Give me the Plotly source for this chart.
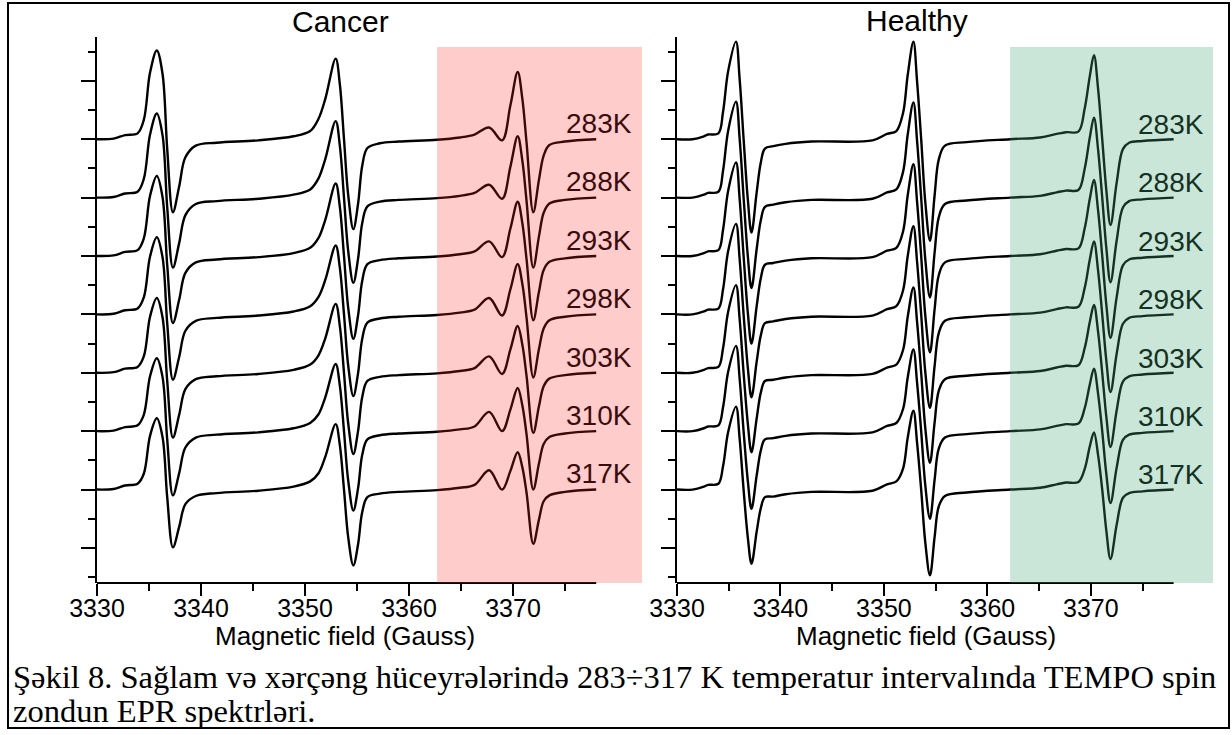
import plotly.graph_objects as go

W, H = 1232, 735

# ---------------------------------------------------------------- data
temperatures = ["283K", "288K", "293K", "298K", "303K", "310K", "317K"]
stack_level = [7, 6, 5, 4, 3, 2, 1]          # baseline of each stacked spectrum

x_ticks = [3330, 3340, 3350, 3360, 3370]
x_minor = [3335, 3345, 3355, 3365, 3375]

# Cancer cells: field positions (G) of the sampled spectrum points
cancer_field = [
    3330.0, 3331.6, 3332.7, 3333.9, 3334.5, 3335.1, 3335.75, 3336.3, 3336.75, 3337.3,
    3337.9, 3338.5, 3339.5, 3341.5, 3345.5,
    3348.9, 3350.5, 3351.3, 3351.95, 3352.95, 3353.35, 3353.75, 3354.15, 3354.65, 3355.1,
    3355.5, 3356.0, 3357.2, 3359.0,
    3362.7, 3364.9, 3366.3, 3367.7, 3368.95, 3369.75, 3370.45, 3370.9, 3371.3, 3371.95,
    3372.5, 3372.95, 3373.5, 3375.0, 3378.0,
]
cancer_283 = [0, 0.01, 0.07, 0.10, 0.33, 1.14, 1.52, 1.12, -0.16, -1.25, -0.81, -0.31, -0.11, -0.06, -0.02,
              0.05, 0.14, 0.35, 0.69, 1.38, 0.94, 0.0, -0.95, -1.54, -1.11, -0.46, -0.15, -0.07, -0.04,
              -0.01, 0.03, 0.08, 0.20, -0.02, 0.58, 1.15, 0.69, -0.05, -1.25, -0.69, -0.28, -0.10, -0.04, 0.0]
cancer_288 = [0, 0.01, 0.07, 0.10, 0.32, 1.08, 1.44, 1.07, -0.16, -1.20, -0.78, -0.30, -0.11, -0.06, -0.02,
              0.05, 0.14, 0.33, 0.66, 1.31, 0.89, 0.0, -0.91, -1.46, -1.05, -0.44, -0.15, -0.07, -0.04,
              -0.01, 0.03, 0.08, 0.22, -0.02, 0.53, 1.05, 0.63, -0.05, -1.20, -0.66, -0.26, -0.10, -0.04, 0.0]
cancer_293 = [0, 0.01, 0.07, 0.10, 0.30, 1.03, 1.37, 1.01, -0.15, -1.15, -0.75, -0.29, -0.11, -0.06, -0.02,
              0.05, 0.14, 0.31, 0.62, 1.24, 0.84, 0.0, -0.88, -1.42, -1.02, -0.43, -0.14, -0.07, -0.04,
              -0.01, 0.03, 0.08, 0.25, -0.02, 0.47, 0.93, 0.56, -0.05, -1.10, -0.61, -0.24, -0.10, -0.04, 0.0]
cancer_298 = [0, 0.01, 0.07, 0.10, 0.29, 0.99, 1.32, 0.98, -0.15, -1.12, -0.73, -0.28, -0.11, -0.06, -0.02,
              0.05, 0.14, 0.30, 0.59, 1.18, 0.80, 0.0, -0.87, -1.40, -1.01, -0.42, -0.14, -0.07, -0.04,
              -0.01, 0.03, 0.08, 0.28, -0.02, 0.43, 0.86, 0.52, -0.05, -1.08, -0.59, -0.24, -0.10, -0.04, 0.0]
cancer_303 = [0, 0.01, 0.07, 0.10, 0.28, 0.96, 1.28, 0.95, -0.14, -1.11, -0.72, -0.28, -0.11, -0.06, -0.02,
              0.05, 0.14, 0.30, 0.59, 1.18, 0.80, 0.0, -0.86, -1.39, -1.00, -0.42, -0.14, -0.07, -0.04,
              -0.01, 0.03, 0.08, 0.28, -0.02, 0.40, 0.80, 0.48, -0.05, -1.03, -0.57, -0.23, -0.10, -0.04, 0.0]
cancer_310 = [0, 0.01, 0.07, 0.10, 0.28, 0.94, 1.25, 0.93, -0.14, -1.10, -0.72, -0.28, -0.11, -0.06, -0.02,
              0.05, 0.14, 0.29, 0.58, 1.15, 0.78, 0.0, -0.84, -1.36, -0.98, -0.41, -0.14, -0.07, -0.04,
              -0.01, 0.03, 0.08, 0.33, 0.0, 0.37, 0.74, 0.44, -0.05, -1.00, -0.55, -0.22, -0.10, -0.04, 0.0]
cancer_317 = [0, 0.01, 0.07, 0.10, 0.27, 0.92, 1.22, 0.90, -0.13, -0.99, -0.64, -0.25, -0.11, -0.06, -0.02,
              0.05, 0.14, 0.28, 0.56, 1.12, 0.76, 0.0, -0.81, -1.30, -0.94, -0.39, -0.13, -0.07, -0.04,
              -0.01, 0.03, 0.08, 0.33, 0.0, 0.32, 0.64, 0.38, -0.05, -0.93, -0.51, -0.20, -0.10, -0.04, 0.0]

# Healthy cells
healthy_field = [
    3330.0, 3331.5, 3332.6, 3333.0, 3334.0, 3334.45, 3334.95, 3335.7, 3336.05, 3336.45,
    3336.85, 3337.2, 3337.7, 3338.1, 3338.5, 3339.3, 3340.5, 3343.0, 3348.9,
    3350.3, 3351.2, 3351.85, 3352.3, 3352.85, 3353.2, 3353.6, 3354.0, 3354.45, 3354.9,
    3355.3, 3355.9, 3358.0, 3362.2,
    3365.1, 3366.7, 3367.6, 3368.8, 3369.4, 3369.9, 3370.3, 3370.7, 3371.1, 3371.5,
    3371.9, 3372.5, 3373.1, 3373.7, 3375.0, 3378.0,
]
healthy_283 = [0, 0.0, 0.05, 0.08, 0.10, 0.47, 1.17, 1.67, 1.04, -0.03, -1.04, -1.60, -0.91, -0.40, -0.16, -0.12, -0.08, -0.04, -0.02,
               0.09, 0.14, 0.45, 1.10, 1.67, 1.00, 0.0, -1.08, -1.74, -0.96, -0.35, -0.11, -0.05, 0.0,
               0.03, 0.09, 0.12, 0.13, 0.52, 1.08, 1.44, 0.86, 0.0, -0.88, -1.47, -0.74, -0.17, -0.06, -0.03, 0.0]
healthy_288 = [0, 0.0, 0.05, 0.08, 0.10, 0.46, 1.15, 1.64, 1.02, -0.03, -1.01, -1.55, -0.88, -0.39, -0.16, -0.12, -0.08, -0.04, -0.02,
               0.09, 0.14, 0.44, 1.08, 1.63, 0.98, 0.0, -1.06, -1.71, -0.94, -0.34, -0.11, -0.05, 0.0,
               0.03, 0.09, 0.12, 0.13, 0.49, 1.03, 1.37, 0.82, 0.0, -0.87, -1.45, -0.73, -0.17, -0.06, -0.03, 0.0]
healthy_293 = [0, 0.0, 0.05, 0.08, 0.10, 0.45, 1.12, 1.60, 0.99, -0.03, -0.98, -1.50, -0.86, -0.38, -0.15, -0.12, -0.08, -0.04, -0.02,
               0.09, 0.14, 0.42, 1.04, 1.57, 0.94, 0.0, -1.02, -1.65, -0.91, -0.33, -0.11, -0.05, 0.0,
               0.03, 0.09, 0.12, 0.13, 0.47, 0.98, 1.30, 0.78, 0.0, -0.84, -1.40, -0.70, -0.16, -0.06, -0.03, 0.0]
healthy_298 = [0, 0.0, 0.05, 0.08, 0.10, 0.43, 1.09, 1.55, 0.96, -0.03, -0.92, -1.42, -0.81, -0.36, -0.15, -0.12, -0.08, -0.04, -0.02,
               0.09, 0.14, 0.41, 1.00, 1.51, 0.91, 0.0, -0.99, -1.60, -0.88, -0.32, -0.11, -0.05, 0.0,
               0.03, 0.09, 0.12, 0.13, 0.45, 0.94, 1.25, 0.75, 0.0, -0.80, -1.33, -0.67, -0.16, -0.06, -0.03, 0.0]
healthy_303 = [0, 0.0, 0.05, 0.08, 0.10, 0.42, 1.05, 1.50, 0.93, -0.03, -0.88, -1.36, -0.78, -0.34, -0.14, -0.12, -0.08, -0.04, -0.02,
               0.09, 0.14, 0.39, 0.96, 1.46, 0.88, 0.0, -0.95, -1.54, -0.85, -0.31, -0.11, -0.05, 0.0,
               0.03, 0.09, 0.12, 0.13, 0.42, 0.87, 1.16, 0.70, 0.0, -0.76, -1.27, -0.64, -0.15, -0.06, -0.03, 0.0]
healthy_310 = [0, 0.0, 0.05, 0.08, 0.10, 0.41, 1.02, 1.46, 0.91, -0.03, -0.86, -1.33, -0.76, -0.33, -0.14, -0.12, -0.08, -0.04, -0.02,
               0.09, 0.14, 0.38, 0.92, 1.40, 0.84, 0.0, -0.93, -1.50, -0.83, -0.30, -0.11, -0.05, 0.0,
               0.03, 0.09, 0.12, 0.13, 0.39, 0.80, 1.07, 0.64, 0.0, -0.74, -1.23, -0.62, -0.15, -0.06, -0.03, 0.0]
healthy_317 = [0, 0.0, 0.05, 0.08, 0.10, 0.40, 0.99, 1.42, 0.88, -0.03, -0.83, -1.27, -0.72, -0.32, -0.13, -0.12, -0.08, -0.04, -0.02,
               0.09, 0.14, 0.36, 0.89, 1.35, 0.81, 0.0, -0.91, -1.47, -0.81, -0.29, -0.11, -0.05, 0.0,
               0.03, 0.09, 0.12, 0.13, 0.35, 0.74, 0.98, 0.59, 0.0, -0.71, -1.19, -0.60, -0.14, -0.06, -0.03, 0.0]

cancer_spectra = [cancer_283, cancer_288, cancer_293, cancer_298, cancer_303, cancer_310, cancer_317]
healthy_spectra = [healthy_283, healthy_288, healthy_293, healthy_298, healthy_303, healthy_310, healthy_317]

# ---------------------------------------------------------------- layout helpers
def px_x(p):
    return p / W

def px_y(p):
    return 1 - p / H

SANS = "Liberation Sans, Arial, sans-serif"
SERIF = "Liberation Serif, Times New Roman, serif"

Y_RANGE = [-0.6, 8.75]
Y_DOMAIN = [px_y(583), px_y(37)]
Y_BOTTOM = Y_DOMAIN[0]

fig = go.Figure()

panels = [
    dict(xa="x", ya="y", field=cancer_field, spectra=cancer_spectra),
    dict(xa="x2", ya="y2", field=healthy_field, spectra=healthy_spectra),
]
for p in panels:
    for spec, base in zip(p["spectra"], stack_level):
        fig.add_trace(go.Scatter(
            x=p["field"], y=[v + base for v in spec],
            mode="lines", line=dict(color="black", width=2.4, shape="spline", smoothing=1.0),
            xaxis=p["xa"], yaxis=p["ya"], showlegend=False, hoverinfo="skip",
        ))


def x_axis(domain, rng, anchor):
    return dict(
        domain=domain, range=rng, anchor=anchor, automargin=False,
        showline=False, showgrid=False, zeroline=False,
        tickmode="array", tickvals=x_ticks, ticktext=[str(v) for v in x_ticks],
        ticks="outside", ticklen=12, tickwidth=2, tickcolor="black",
        ticklabelstandoff=-9,
        tickfont=dict(family=SANS, size=25, color="black"),
        minor=dict(tickmode="array", tickvals=x_minor, ticks="outside",
                   ticklen=7, tickwidth=2, tickcolor="black", showgrid=False),
    )


def y_axis(anchor):
    return dict(
        domain=Y_DOMAIN, range=Y_RANGE, anchor=anchor, automargin=False,
        showline=True, linewidth=2, linecolor="black",
        showgrid=False, zeroline=False, showticklabels=False,
        tickmode="array", tickvals=list(range(0, 9)),
        ticks="outside", ticklen=14, tickwidth=2, tickcolor="black",
        minor=dict(tickmode="array", tickvals=[k + 0.5 for k in range(-1, 9)],
                   ticks="outside", ticklen=7, tickwidth=2, tickcolor="black", showgrid=False),
    )


fig.update_layout(
    template="none",
    width=W, height=H, autosize=False,
    margin=dict(l=0, r=0, t=0, b=0, pad=0, autoexpand=False),
    paper_bgcolor="white", plot_bgcolor="white",
    xaxis=x_axis([px_x(97), px_x(643)], [3330, 3382.5], "y"),
    yaxis=y_axis("x"),
    xaxis2=x_axis([px_x(677), px_x(1215)], [3330, 3382.0], "y2"),
    yaxis2=y_axis("x2"),
)

shapes = []
# bottom axis lines end at 3378 G
for xr in ("x", "x2"):
    shapes.append(dict(type="line", xref=xr, yref="paper", x0=3330, x1=3378,
                       y0=Y_BOTTOM, y1=Y_BOTTOM, line=dict(color="black", width=2)))
# tinted high-field windows, laid over the traces
shapes.append(dict(type="rect", xref="x", yref="y", x0=3362.7, x1=3382.4, y0=-0.63, y1=8.58,
                   fillcolor="rgb(255,38,38)", opacity=0.235, line=dict(width=0), layer="above"))
shapes.append(dict(type="rect", xref="x2", yref="y2", x0=3362.2, x1=3381.8, y0=-0.63, y1=8.58,
                   fillcolor="rgb(68,170,119)", opacity=0.29, line=dict(width=0), layer="above"))
# frame around the whole figure
shapes.append(dict(type="rect", xref="paper", yref="paper", x0=px_x(8), x1=px_x(1229),
                   y0=px_y(728), y1=px_y(3), line=dict(color="black", width=2),
                   fillcolor="rgba(0,0,0,0)"))

annotations = []
for lbl, base in zip(temperatures, stack_level):
    annotations.append(dict(x=3378.3, y=base + 0.27, xref="x", yref="y", text=lbl, showarrow=False,
                            font=dict(family=SANS, size=28, color="rgb(60,12,12)"),
                            xanchor="center", yanchor="middle"))
    annotations.append(dict(x=3377.7, y=base + 0.25, xref="x2", yref="y2", text=lbl, showarrow=False,
                            font=dict(family=SANS, size=28, color="rgb(20,50,35)"),
                            xanchor="center", yanchor="middle"))

annotations += [
    dict(x=px_x(340), y=px_y(22), xref="paper", yref="paper", text="Cancer", showarrow=False,
         font=dict(family=SANS, size=30, color="black"), xanchor="center", yanchor="middle"),
    dict(x=px_x(917), y=px_y(20), xref="paper", yref="paper", text="Healthy", showarrow=False,
         font=dict(family=SANS, size=30, color="black"), xanchor="center", yanchor="middle"),
    dict(x=px_x(345), y=px_y(636), xref="paper", yref="paper", text="Magnetic field (Gauss)",
         showarrow=False, font=dict(family=SANS, size=26, color="black"),
         xanchor="center", yanchor="middle"),
    dict(x=px_x(926), y=px_y(636), xref="paper", yref="paper", text="Magnetic field (Gauss)",
         showarrow=False, font=dict(family=SANS, size=26, color="black"),
         xanchor="center", yanchor="middle"),
    dict(x=px_x(11), y=px_y(677), xref="paper", yref="paper",
         text="Şəkil 8. Sağlam və xərçəng hüceyrələrində 283÷317 K temperatur intervalında TEMPO spin",
         showarrow=False, font=dict(family=SERIF, size=32.5, color="black"),
         xanchor="left", yanchor="middle"),
    dict(x=px_x(11), y=px_y(711), xref="paper", yref="paper",
         text="zondun EPR spektrləri.",
         showarrow=False, font=dict(family=SERIF, size=32.5, color="black"),
         xanchor="left", yanchor="middle"),
]

fig.update_layout(shapes=shapes, annotations=annotations)
fig.write_html("out.html")
